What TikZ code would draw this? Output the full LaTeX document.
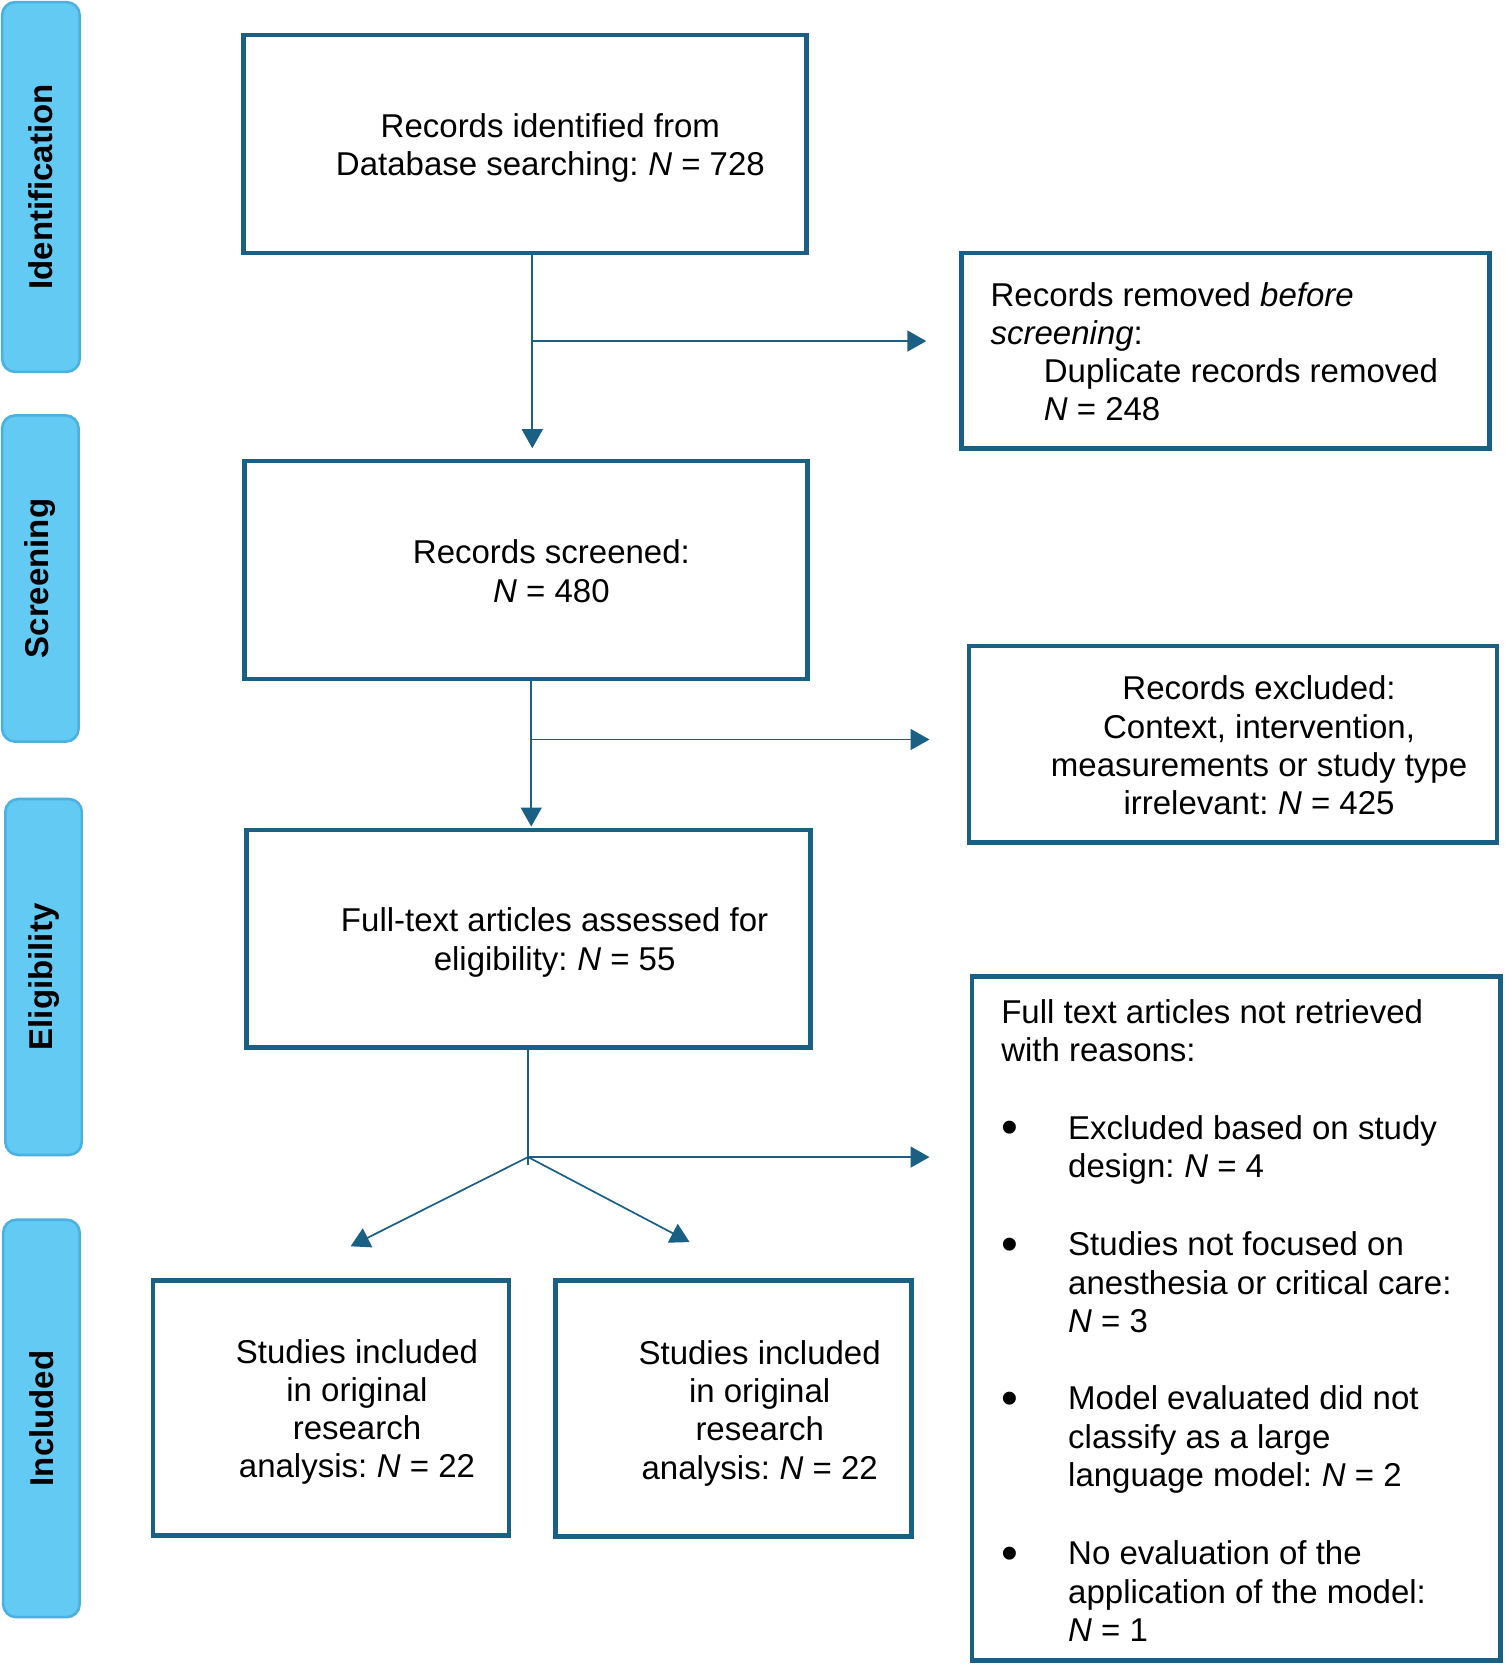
\documentclass[tikz,border=0pt]{standalone}
\usepackage{fontspec}
\setmainfont{Liberation Sans}
\usetikzlibrary{arrows.meta,fit}
\definecolor{boxblue}{HTML}{1A5F84}
\definecolor{pillfill}{HTML}{62CAF3}
\definecolor{pillline}{HTML}{4AB1E1}
\newcommand\nitl{\kern-1.3pt\textit{N}}
\begin{document}
\begin{tikzpicture}[x=0.5313pt,y=-0.5313pt,
  box/.style={draw=boxblue,line width=2.3pt,inner sep=0pt},
  pill/.style={draw=pillline,fill=pillfill,line width=1.3pt,rounded corners=6.5pt,inner sep=0pt},
  pilltxt/.style={font=\fontsize{16.5}{19}\selectfont\bfseries,rotate=90,inner sep=0pt},
  txt/.style={font=\fontsize{16.5}{19.13}\selectfont,inner sep=0pt},
  ctxt/.style={txt,align=center},
  ltxt/.style={txt,align=left,anchor=west},
  bul/.style={txt,scale=1.45},
  conn/.style={draw=boxblue,line width=0.85pt},
  arr/.style={conn,-{Triangle[length=9.5pt,width=10.5pt]}}
]
\useasboundingbox (0,0) rectangle (1416,1568);

% phase pills
\node[pill,fit={(2,2)(75,350)}] (pid) {};
\node[pilltxt] (pidt) at (pid.center) {Identification};
\node[pill,fit={(2,391)(74,698)}] (psc) {};
\node[pilltxt] (psct) at (psc.center) {Screening};
\node[pill,fit={(5,752)(77,1087)}] (pel) {};
\node[pilltxt] (pelt) at (pel.center) {Eligibility};
\node[pill,fit={(3,1148)(75,1522)}] (pin) {};
\node[pilltxt] (pint) at (pin.center) {Included};

% boxes
\node[box,fit={(229,33)(759,238)}] (b1) {};
\node[ctxt] (b1t) at (518,139) {Records identified from\\Database searching: \nitl{} = 728};

\node[box,fit={(905,238)(1402,422)}] (rem) {};
\node[ltxt] (remt) at (932,331) {Records removed \textit{before}\\\textit{screening}:\\\hspace*{26.6pt}Duplicate records removed\\\hspace*{26.6pt}\textit{N} = 248};

\node[box,fit={(230,434)(760,639)}] (b2) {};
\node[ctxt] (b2t) at (519,537.5) {Records screened:\\\textit{N} = 480};

\node[box,fit={(912,608)(1409,793)}] (exc) {};
\node[ctxt] (exct) at (1185,701.5) {Records excluded:\\Context, intervention,\\measurements or study type\\irrelevant: \nitl{} = 425};

\node[box,fit={(232,781)(763,986)}] (b3) {};
\node[ctxt] (b3t) at (522,887) {Full-text articles assessed for\\eligibility: \nitl{} = 55};

\node[box,fit={(915,919)(1412,1563)}] (nr) {};
\node[ltxt] (nrh) at (942,970) {Full text articles not retrieved\\with reasons:};
\node[bul] (bu1) at (950,1066) {•};
\node[ltxt] (nr1) at (1005,1082) {Excluded based on study\\design: \nitl{} = 4};
\node[bul] (bu2) at (950,1176) {•};
\node[ltxt] (nr2) at (1005,1207) {Studies not focused on\\anesthesia or critical care:\\\textit{N} = 3};
\node[bul] (bu3) at (950,1321) {•};
\node[ltxt] (nr3) at (1005,1355) {Model evaluated did not\\classify as a large\\language model: \nitl{} = 2};
\node[bul] (bu4) at (950,1467) {•};
\node[ltxt] (nr4) at (1005,1497.5) {No evaluation of the\\application of the model:\\\textit{N} = 1};

\node[box,fit={(144,1205)(479,1445)}] (inL) {};
\node[ctxt] (inLt) at (336,1329) {Studies included\\in original\\research\\analysis: \nitl{} = 22};
\node[box,fit={(523,1205)(858,1446)}] (inR) {};
\node[ctxt] (inRt) at (715,1330) {Studies included\\in original\\research\\analysis: \nitl{} = 22};

% connectors
\coordinate (j1) at (501,321);
\coordinate (j2) at (500,696);
\coordinate (j3) at (497,1089);
\coordinate (tL) at (330,1173);
\coordinate (tR) at (649,1169);

\draw[arr,shorten >=5.3pt] (b1.south -| j1) -- (b2.north -| j1);
\draw[arr,shorten >=16.5pt] (j1) -- (j1 -| rem.west);
\draw[arr,shorten >=0.5pt] (b2.south -| j2) -- (b3.north -| j2);
\draw[arr,shorten >=18.6pt] (j2) -- (j2 -| exc.west);
\draw[conn] (b3.south -| j3) -- ([yshift=-4pt]j3);
\draw[arr,shorten >=20.2pt] (j3) -- (j3 -| nr.west);
\draw[arr] (j3) -- (tL);
\draw[arr] (j3) -- (tR);
\end{tikzpicture}
\end{document}
